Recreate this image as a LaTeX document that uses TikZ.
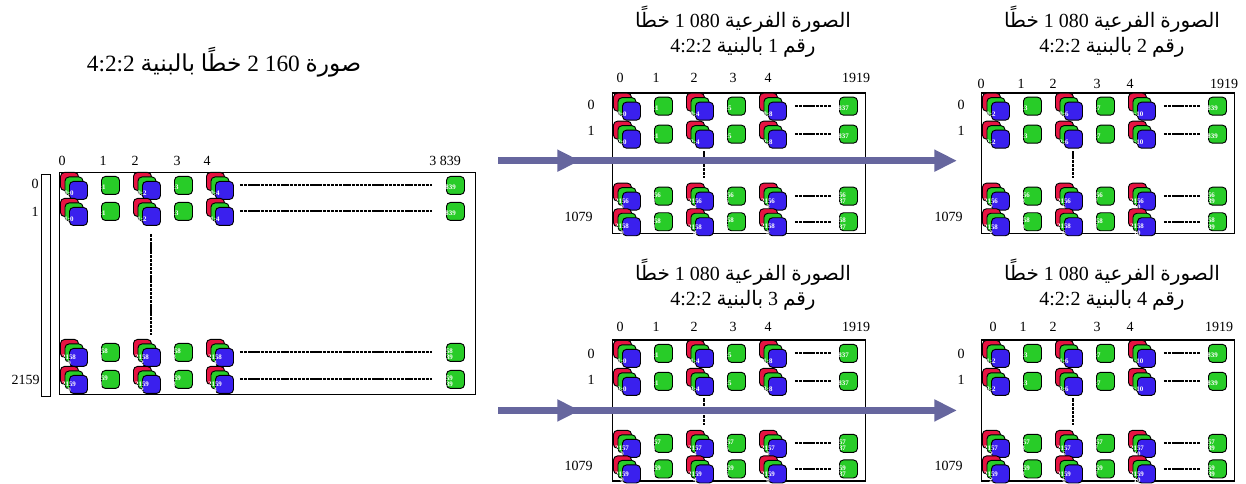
\documentclass[tikz,border=0pt]{standalone}
\usepackage{fontspec}
\setmainfont{Liberation Serif}
\newfontfamily\arabicfont[Script=Arabic]{DejaVu Sans}
\usetikzlibrary{arrows.meta}
\TeXXeTstate=1

\definecolor{crRed}{RGB}{230,20,66}
\definecolor{yGreen}{RGB}{40,204,40}
\definecolor{cbBlue}{RGB}{58,32,238}
\definecolor{flowCol}{RGB}{102,102,158}

\newcommand{\ar}[1]{{\arabicfont\beginR #1\endR}}

\tikzset{
  smp/.style={draw=black, line width=0.7pt, rounded corners=3pt,
    minimum size=13.5pt, inner sep=0pt, anchor=north west},
  lbl/.style={text=white, font=\bfseries\fontsize{5.2}{4.6}\selectfont,
    inner sep=0pt, align=center},
  frame/.style={draw=black, line width=1.1pt, anchor=north west, inner sep=0pt},
  num/.style={font=\fontsize{10.5}{12}\selectfont, inner sep=0pt},
  title/.style={font=\fontsize{15}{19}\selectfont, align=center, inner sep=0pt},
  ellip/.style={line width=1.5pt, dash pattern=on 2.5pt off 0.6pt},
  bigtail/.style={shorten <=4.5pt, shorten >=10.5pt},
  subtail/.style={shorten <=6pt, shorten >=5.25pt},
  flow/.style={draw=flowCol, line width=5pt, -{Triangle[length=17pt,width=15.5pt]}}
}

% Cr, Y and Cb samples of one pixel, #1/#2 = top left of the Cr sample
\newcommand{\triad}[4]{%
  \node[smp, fill=crRed] (#4-cr) at ({#1},{#2}) {};
  \node[smp, fill=yGreen] (#4-y) at ({#1+4.5},{#2+4.5}) {};
  \node[smp, fill=cbBlue] (#4-cb) at ({#1+9},{#2+9}) {};
  \node[lbl] (#4-t) at ([yshift=-2.25pt]#4-cb.west) {#3};
}
% Y sample alone
\newcommand{\luma}[4]{%
  \node[smp, fill=yGreen] (#4) at ({#1},{#2}) {};
  \node[lbl] (#4-t) at ([yshift=-1.5pt]#4.west) {#3};
}
% first five samples of a row, #1/#2 = left end and top of the row
\newcommand{\pixrow}[8]{%
  \triad{#1+1}{#2}{#4}{#3a}
  \luma{#1+42}{#2+4}{#5}{#3b}
  \triad{#1+74}{#2}{#6}{#3c}
  \luma{#1+115}{#2+4}{#7}{#3d}
  \triad{#1+147}{#2}{#8}{#3e}
}
% ellipsis and last Y sample of a row
\newcommand{\tailrow}[5]{%
  \luma{#2}{#3}{#4}{#1f}
  \draw[ellip, #5] (#1e-cb.east |- #1f.west) -- (#1f.west);
}
% one 1920x1080 sub-picture, #4 = first line, #5 = first column
\newcommand{\subpic}[5]{%
  \node[frame, minimum width=189.75pt, minimum height=105.4pt] (#3) at ({#1},{#2}) {};
  \pgfmathtruncatemacro\sca{#5+1}
  \pgfmathtruncatemacro\scb{#5+4}
  \pgfmathtruncatemacro\scc{#5+5}
  \pgfmathtruncatemacro\scd{#5+8}
  \pgfmathtruncatemacro\sce{#5+3837}
  \pgfmathtruncatemacro\srb{#4+2}
  \pgfmathtruncatemacro\src{#4+2156}
  \pgfmathtruncatemacro\srd{#4+2158}
  \pixrow{#1}{#2+0.4}{#3r0}{#4:#5}{#4:\sca}{#4:\scb}{#4:\scc}{#4:\scd}
  \pixrow{#1}{#2+28.4}{#3r1}{\srb:#5}{\srb:\sca}{\srb:\scb}{\srb:\scc}{\srb:\scd}
  \pixrow{#1}{#2+90.4}{#3r2}{\src\\#5}{\src\\\sca}{\src\\\scb}{\src\\\scc}{\src\\\scd}
  \pixrow{#1}{#2+116}{#3r3}{\srd\\#5}{\srd\\\sca}{\srd\\\scb}{\srd\\\scc}{\srd\\\scd}
  \tailrow{#3r0}{#1+227}{#2+4.4}{#4:\sce}{subtail}
  \tailrow{#3r1}{#1+227}{#2+32.4}{\srb:\sce}{subtail}
  \tailrow{#3r2}{#1+227}{#2+94.4}{\src\\\sce}{subtail}
  \tailrow{#3r3}{#1+227}{#2+120}{\srd\\\sce}{subtail}
  \draw[ellip, shorten <=2pt, shorten >=3.5pt] (#3r1c-cb.south) -- (#3r1c-cb.south |- #3r2c-cr.north);
}

\begin{document}
\begin{tikzpicture}[x=0.75pt, y=-0.75pt]
\useasboundingbox (0,0) rectangle (1246,484);

% titles
\node[title, font=\fontsize{17.5}{19}\selectfont] (tbig) at (224,62) {4:2:2 \ar{بالبنية} \ar{خطًا} 2 160 \ar{صورة}};
\node[title] (tsub1) at (743,32) {\ar{خطًا} 1 080 \ar{الفرعية} \ar{الصورة}\\4:2:2 \ar{بالبنية} 1 \ar{رقم}};
\node[title] (tsub2) at (1112,32) {\ar{خطًا} 1 080 \ar{الفرعية} \ar{الصورة}\\4:2:2 \ar{بالبنية} 2 \ar{رقم}};
\node[title] (tsub3) at (743,285) {\ar{خطًا} 1 080 \ar{الفرعية} \ar{الصورة}\\4:2:2 \ar{بالبنية} 3 \ar{رقم}};
\node[title] (tsub4) at (1112,285) {\ar{خطًا} 1 080 \ar{الفرعية} \ar{الصورة}\\4:2:2 \ar{بالبنية} 4 \ar{رقم}};

% full 3840x2160 picture
\node[frame, minimum width=312pt, minimum height=166.5pt] (big) at (59,172) {};
\draw[line width=0.5pt] (41,174) rectangle (50,396);
\foreach \lx/\lt [count=\i] in {62/0,103/1,135/2,177/3,207/4,445/3 839}
  \node[num] (bcol\i) at (\lx,161) {\lt};
\node[num] (brow0) at (35,184) {0};
\node[num] (brow1) at (35,212) {1};
\node[num, anchor=east] (brow2) at (40,380) {2159};
\pixrow{59}{172}{b0}{0:0}{0:1}{0:2}{0:3}{0:4}
\pixrow{59}{198}{b1}{1:0}{1:1}{1:2}{1:3}{1:4}
\pixrow{59}{339}{b2}{2158\\0}{2158\\1}{2158\\2}{2158\\3}{2158\\4}
\pixrow{59}{366}{b3}{2159\\0}{2159\\1}{2159\\2}{2159\\3}{2159\\4}
\tailrow{b0}{446}{176}{0:3839}{bigtail}
\tailrow{b1}{446}{202}{1:3839}{bigtail}
\tailrow{b2}{446}{343}{2158\\3839}{bigtail}
\tailrow{b3}{446}{370}{2159\\3839}{bigtail}
\draw[ellip, shorten <=6pt, shorten >=3pt] (b1c-cb.south) -- (b1c-cb.south |- b2c-cr.north);

% four 1920x1080 sub-pictures
\subpic{612}{92.3}{sub1}{0}{0}
\subpic{981}{92.3}{sub2}{0}{2}
\subpic{612}{339.5}{sub3}{1}{0}
\subpic{981}{339.5}{sub4}{1}{2}
\foreach \lx/\lt [count=\i] in {620/0,656/1,694/2,733/3,768/4,856/1919}
  \node[num] (s1col\i) at (\lx,78) {\lt};
\foreach \lx/\lt [count=\i] in {981/0,1021/1,1053/2,1097/3,1130/4,1224/1919}
  \node[num] (s2col\i) at (\lx,84) {\lt};
\foreach \lx/\lt [count=\i] in {620/0,656/1,694/2,733/3,768/4,856/1919}
  \node[num] (s3col\i) at (\lx,327) {\lt};
\foreach \lx/\lt [count=\i] in {993/0,1023/1,1053/2,1097/3,1130/4,1219/1919}
  \node[num] (s4col\i) at (\lx,327) {\lt};
\foreach \sx/\sy/\s in {591/105/1,961/105/2,591/354/3,961/354/4} {
  \node[num] (s\s row0) at (\sx,\sy) {0};
  \node[num] (s\s row1) at (\sx,\sy+26) {1};
  \node[num, anchor=east] (s\s row2) at (\sx+2,\sy+112) {1079};
}

% split arrows
\coordinate (a1s) at ([xshift=16.5pt, yshift=8.5pt]big.north east);
\coordinate (a1m) at ([xshift=-24pt]sub1.west |- a1s);
\coordinate (a1e) at ([xshift=-18pt]sub2.west |- a1s);
\draw[flow] (a1s) -- (a1m);
\draw[flow] (a1s) -- (a1e);
\coordinate (a2s) at ([xshift=16.5pt, yshift=-11.25pt]big.south east);
\coordinate (a2m) at ([xshift=-24pt]sub3.west |- a2s);
\coordinate (a2e) at ([xshift=-18pt]sub4.west |- a2s);
\draw[flow] (a2s) -- (a2m);
\draw[flow] (a2s) -- (a2e);
\end{tikzpicture}
\end{document}
